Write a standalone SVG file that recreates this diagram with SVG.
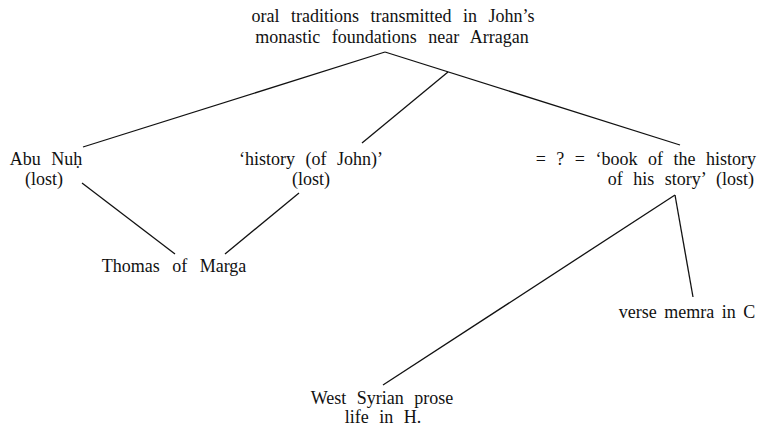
<svg xmlns="http://www.w3.org/2000/svg" width="759" height="427" viewBox="0 0 759 427">
<style>
text{font-family:"Liberation Serif","Times New Roman",serif;font-size:18px;fill:#111;word-spacing:6px;}
.m{text-anchor:middle}
.e{text-anchor:end}
line{stroke:#111;stroke-width:1.3;fill:none}
</style>
<rect width="759" height="427" fill="#fff"/>
<g id="connectors">
<line x1="385" y1="52" x2="83" y2="147"/>
<line x1="385" y1="52" x2="680" y2="145"/>
<line x1="448" y1="72" x2="362" y2="143"/>
<line x1="82" y1="183" x2="175" y2="254"/>
<line x1="299" y1="193" x2="225" y2="254"/>
<line x1="675" y1="195" x2="693" y2="297"/>
<line x1="675" y1="195" x2="383" y2="385"/>
</g>
<g id="oral"><text class="m" x="393" y="22" style="word-spacing:7px">oral traditions transmitted in John’s</text><text class="m" x="392" y="43" style="word-spacing:7px">monastic foundations near Arragan</text></g>
<g id="abu"><text class="m" x="46" y="165">Abu Nuḥ</text><text class="m" x="44" y="185">(lost)</text></g>
<g id="history"><text class="m" x="311" y="165">‘history (of John)’</text><text class="m" x="311" y="185">(lost)</text></g>
<g id="book"><text class="e" x="756" y="165">= ? = ‘book of the history</text><text class="e" x="754" y="185">of his story’ (lost)</text></g>
<g id="thomas"><text class="m" x="174" y="272" style="word-spacing:8px">Thomas of Marga</text></g>
<g id="verse"><text class="m" x="687" y="318" style="word-spacing:3px">verse memra in C</text></g>
<g id="west"><text class="m" x="382" y="404">West Syrian prose</text><text class="m" x="383" y="423">life in H.</text></g>
</svg>
